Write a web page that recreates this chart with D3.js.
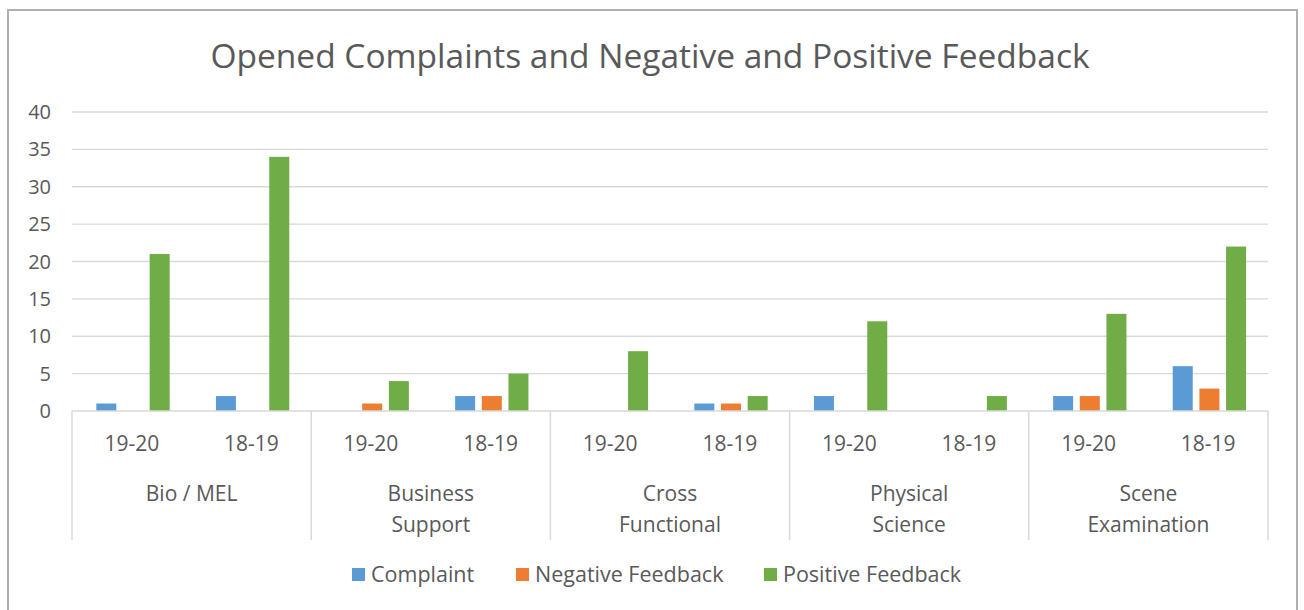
<!DOCTYPE html>
<html>
<head>
<meta charset="utf-8">
<script src="https://cdn.jsdelivr.net/npm/d3@7"></script>
<style>
  body { margin: 0; background: #fff; }
  text { font-family: "Open Sans", "Noto Sans", sans-serif; fill: #595959; }
</style>
</head>
<body>
<script>
"use strict";

const groups = ["Bio / MEL", "Business Support", "Cross Functional", "Physical Science", "Scene Examination"];
const groupLines = [["Bio / MEL"], ["Business", "Support"], ["Cross", "Functional"], ["Physical", "Science"], ["Scene", "Examination"]];
const years = ["19-20", "18-19"];
const seriesNames = ["Complaint", "Negative Feedback", "Positive Feedback"];
const colors = ["#5b9bd5", "#ed7d31", "#70ad47"];

// one value per group/year, in order: Bio 19-20, Bio 18-19, Business 19-20, ...
const complaint = [1, 2, 0, 2, 0, 1, 2, 0, 2, 6];
const negative  = [0, 0, 1, 2, 0, 1, 0, 0, 2, 3];
const positive  = [21, 34, 4, 5, 8, 2, 12, 2, 13, 22];
const yTicks = [0, 5, 10, 15, 20, 25, 30, 35, 40];

(function() {

let width = 1304, height = 610;
let plotLeft = 72, plotRight = 1268, plotTop = 112, plotBottom = 411;

let svg = d3.select("body").append("svg")
    .attr("width", width)
    .attr("height", height);

// outer chart frame
svg.append("rect")
    .attr("x", 8).attr("y", 10)
    .attr("width", 1289).attr("height", 610)
    .attr("fill", "none")
    .attr("stroke", "#b0b0b0")
    .attr("stroke-width", 2);

svg.append("text")
    .attr("x", 650).attr("y", 68)
    .attr("text-anchor", "middle")
    .style("font-size", "33.5px")
    .text("Opened Complaints and Negative and Positive Feedback");

// flat list of subcategories
let cats = [];
groups.forEach(function(g, gi) {
    years.forEach(function(yr, yi) { cats.push({ group: g, gi: gi, year: yr, idx: gi * 2 + yi }); });
});

let y = d3.scaleLinear().domain([0, 40]).range([plotBottom, plotTop]);
let xGroup = d3.scaleBand().domain(groups).range([plotLeft, plotRight]);
let xCat = d3.scaleBand().domain(cats.map(function(d) { return d.idx; })).range([plotLeft, plotRight]);
let xSeries = d3.scaleBand().domain(seriesNames).range([21, 101]).paddingInner(0.25).paddingOuter(0.125);

// gridlines
svg.append("g").selectAll("line")
    .data(yTicks.filter(function(t) { return t > 0; }))
    .enter().append("line")
    .attr("x1", plotLeft).attr("x2", plotRight)
    .attr("y1", function(d) { return y(d); })
    .attr("y2", function(d) { return y(d); })
    .attr("stroke", "#d9d9d9")
    .attr("stroke-width", 1.3);

// y axis labels
svg.append("g").selectAll("text")
    .data(yTicks)
    .enter().append("text")
    .attr("x", 51)
    .attr("y", function(d) { return y(d) + 7; })
    .attr("text-anchor", "end")
    .style("font-size", "20px")
    .text(function(d) { return d; });

// bars
let values = [complaint, negative, positive];
let barData = [];
seriesNames.forEach(function(s, si) {
    cats.forEach(function(c) { barData.push({ series: s, si: si, cat: c.idx, v: values[si][c.idx] }); });
});

svg.append("g").selectAll("rect")
    .data(barData.filter(function(d) { return d.v > 0; }))
    .enter().append("rect")
    .attr("x", function(d) { return xCat(d.cat) + xSeries(d.series); })
    .attr("width", xSeries.bandwidth())
    .attr("y", function(d) { return y(d.v); })
    .attr("height", function(d) { return y(0) - y(d.v); })
    .attr("fill", function(d) { return colors[d.si]; });

// category axis
let axisG = svg.append("g");
axisG.append("line")
    .attr("x1", plotLeft).attr("x2", plotRight)
    .attr("y1", plotBottom).attr("y2", plotBottom)
    .attr("stroke", "#d9d9d9").attr("stroke-width", 1.5);

axisG.selectAll(".sep")
    .data(groups.map(function(g) { return xGroup(g); }).concat([plotRight]))
    .enter().append("line")
    .attr("class", "sep")
    .attr("x1", function(d) { return d; }).attr("x2", function(d) { return d; })
    .attr("y1", plotBottom).attr("y2", 540)
    .attr("stroke", "#d9d9d9").attr("stroke-width", 1.5);

axisG.selectAll(".yr")
    .data(cats)
    .enter().append("text")
    .attr("class", "yr")
    .attr("x", function(d) { return xCat(d.idx) + xCat.bandwidth() / 2; })
    .attr("y", 451)
    .attr("text-anchor", "middle")
    .style("font-size", "21px")
    .text(function(d) { return d.year; });

groups.forEach(function(g, gi) {
    let t = axisG.append("text")
        .attr("x", xGroup(g) + xGroup.bandwidth() / 2)
        .attr("y", 501)
        .attr("text-anchor", "middle")
        .style("font-size", "21px");
    groupLines[gi].forEach(function(line, li) {
        t.append("tspan")
            .attr("x", xGroup(g) + xGroup.bandwidth() / 2)
            .attr("dy", li === 0 ? 0 : 31)
            .text(line);
    });
});

// legend
let legendX = [352, 516, 764];
let legend = svg.append("g").selectAll("g")
    .data(seriesNames)
    .enter().append("g")
    .attr("transform", function(d, i) { return "translate(" + legendX[i] + ",575)"; });
legend.append("rect")
    .attr("x", 0).attr("y", -7)
    .attr("width", 13).attr("height", 13)
    .attr("fill", function(d, i) { return colors[i]; });
legend.append("text")
    .attr("x", 19).attr("y", 7)
    .style("font-size", "21.5px")
    .text(function(d) { return d; });

})();
</script>
</body>
</html>
